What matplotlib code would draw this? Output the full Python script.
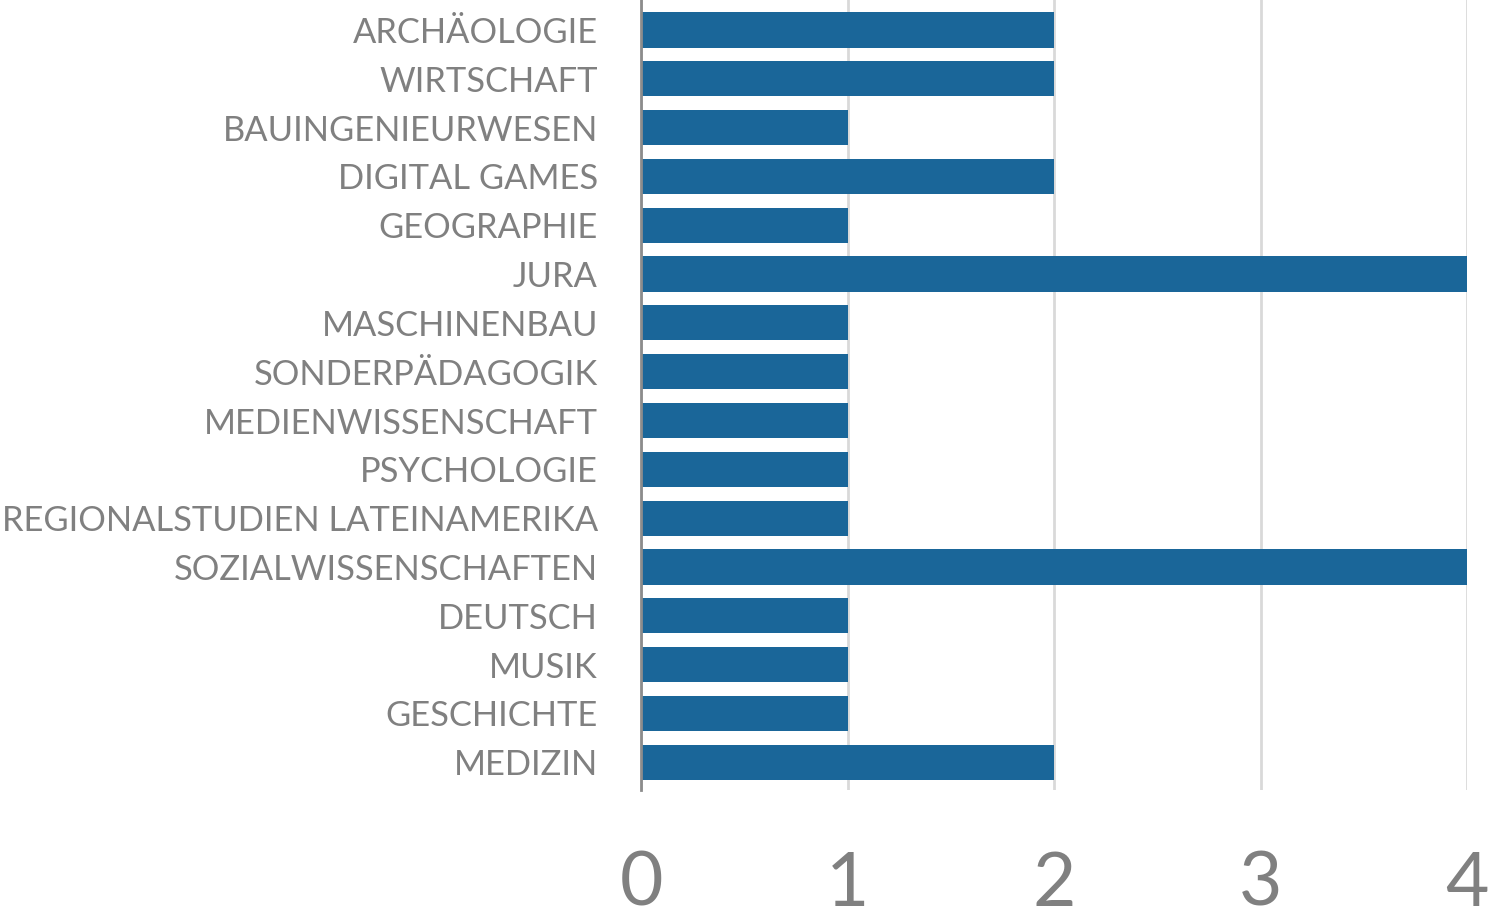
import matplotlib
matplotlib.use("Agg")
import matplotlib.pyplot as plt

categories = ["ARCHÄOLOGIE", "WIRTSCHAFT", "BAUINGENIEURWESEN", "DIGITAL GAMES",
              "GEOGRAPHIE", "JURA", "MASCHINENBAU", "SONDERPÄDAGOGIK",
              "MEDIENWISSENSCHAFT", "PSYCHOLOGIE", "REGIONALSTUDIEN LATEINAMERIKA",
              "SOZIALWISSENSCHAFTEN", "DEUTSCH", "MUSIK", "GESCHICHTE", "MEDIZIN"]
values = [2, 2, 1, 2, 1, 4, 1, 1, 1, 1, 1, 4, 1, 1, 1, 2]
xticks = [0, 1, 2, 3, 4]

plt.rcParams['font.family'] = ['Lato', 'DejaVu Sans']
grey = "#808080"

fig = plt.figure(figsize=(14.9, 9.16), dpi=100)
ax = fig.add_axes([641 / 1490, 1 - 790 / 916, (1467 - 641) / 1490, 790 / 916])

pos = list(range(len(categories)))
ax.barh(pos, values, height=0.72, color="#1a6699", zorder=3)

ax.set_xlim(0, 4)
ax.set_ylim(15.57, -0.615)
ax.set_yticks(pos)
ax.set_yticklabels(categories, fontsize=24.8, color=grey)
ax.set_xticks(xticks)
ax.set_xticklabels([str(t) for t in xticks], fontsize=54, color=grey)
ax.tick_params(axis="y", length=0, pad=31)
ax.tick_params(axis="x", length=0, pad=43)

ax.grid(axis="x", color="#d9d9d9", linewidth=2, zorder=0)
for s in ["top", "right", "bottom"]:
    ax.spines[s].set_visible(False)
ax.spines["left"].set_color("#8c8c8c")
ax.spines["left"].set_linewidth(2)
ax.spines["left"].set_zorder(4)

fig.savefig("out.png", dpi=100)
